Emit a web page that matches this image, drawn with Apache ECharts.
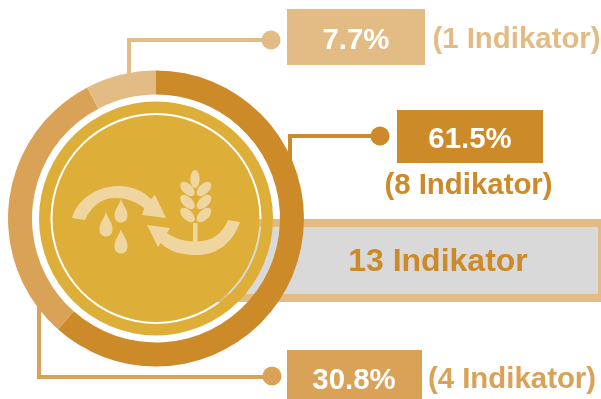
<!DOCTYPE html>
<html>
<head>
<meta charset="utf-8">
<style>html,body{margin:0;padding:0;background:#fff}#c{width:601px;height:399px}</style>
<script src="https://cdn.jsdelivr.net/npm/echarts@6/dist/echarts.min.js"></script>
</head>
<body>
<div id="c"></div>
<script>
const categories = ['Dark', 'Medium', 'Light'];
const indicatorCounts = [8, 4, 1];
const percentLabels = ['61.5%', '30.8%', '7.7%'];
const countLabels = ['(8 Indikator)', '(4 Indikator)', '(1 Indikator)'];
const totalLabel = '13 Indikator';
const sliceColors = ['#CC8A29', '#D9A257', '#E3BC85'];

const FONT = '"Liberation Sans", Arial, sans-serif';
const GOLD = '#DDAE38', ICON = '#EFD6A0';
const CX = 156, CY = 218.5;

const chart = echarts.init(document.getElementById('c'), null, {renderer: 'canvas'});

function txt(t, x, y, size, fill) {
  return {type: 'text', x, y,
    style: {text: t, fill, font: 'bold ' + size + 'px ' + FONT, textAlign: 'center', textVerticalAlign: 'middle'}};
}
function rect(x, y, w, h, fill) {
  return {type: 'rect', shape: {x, y, width: w, height: h}, style: {fill}};
}
function poly(points, stroke) {
  return {type: 'polyline', shape: {points}, style: {stroke, fill: null, lineWidth: 4, lineJoin: 'miter'}};
}
function dot(cx, cy, fill) {
  return {type: 'circle', shape: {cx, cy, r: 9.5}, style: {fill}};
}
function leaf(x, y, deg) {
  return {type: 'ellipse', x, y, rotation: deg * Math.PI / 180,
    shape: {cx: 0, cy: 0, rx: 9, ry: 5}, style: {fill: ICON}};
}
function glyph(d) {
  return {type: 'path', style: {fill: ICON}, shape: {pathData: d}};
}

const backdropChildren = [
  rect(212, 219, 389, 83, sliceColors[2]),
  rect(212, 227, 386, 67, '#D9D9D9'),
  poly([[129, 75], [129, 40], [271, 40]], sliceColors[2]),
  poly([[290, 165], [290, 136], [380, 136]], sliceColors[0]),
  poly([[39, 305], [39, 377], [272, 377]], sliceColors[1])
];

const foregroundChildren = [
  dot(271, 40, sliceColors[2]),
  dot(380, 136, sliceColors[0]),
  dot(272, 376, sliceColors[1]),
  rect(287, 9, 138, 56, sliceColors[2]),
  rect(397, 110, 146, 53, sliceColors[0]),
  rect(287, 350, 135, 49, sliceColors[1]),
  txt(percentLabels[2], 356, 40.5, 29.4, '#fff'),
  txt(percentLabels[0], 470, 139.5, 29.4, '#fff'),
  txt(percentLabels[1], 354, 380.5, 29.4, '#fff'),
  txt(countLabels[2], 516.5, 39.5, 29.4, sliceColors[2]),
  txt(countLabels[0], 468.5, 185.5, 29.4, sliceColors[0]),
  txt(countLabels[1], 512, 379.5, 29.4, sliceColors[1]),
  txt(totalLabel, 438, 262.5, 32, sliceColors[0]),
  {type: 'ring', shape: {cx: CX, cy: CY, r: 117, r0: 105.5}, style: {fill: GOLD}},
  {type: 'circle', shape: {cx: CX, cy: CY, r: 103.5}, style: {fill: GOLD}},
  glyph('M72 218 C78 197 100 186 118 186 C132 186 143 191 151 199 L155 195 L166 218 L142 215 L144 208 C135 201 126 198 115 198 C102 198 91 206 85 220 Z'),
  glyph('M147 225 L170 228 L167 233 C175 239 185 241.5 197 241.5 C212 241.5 223 233 228 220 L240 222 C234 241 218 255 198 255 C184 255 170 253 161 243 L158 247 Z'),
  glyph('M121 199 C123 206 127.5 209 127.5 215.5 C127.5 220 124.5 222.5 121 222.5 C117.5 222.5 114.5 220 114.5 215.5 C114.5 209 119 206 121 199 Z'),
  glyph('M106 212 C108 219 112.5 222 112.5 229.5 C112.5 234 109.5 236.5 106 236.5 C102.5 236.5 99.5 234 99.5 229.5 C99.5 222 104 219 106 212 Z'),
  glyph('M121 229 C123 236 127.5 239 127.5 246.5 C127.5 251 124.5 253.5 121 253.5 C117.5 253.5 114.5 251 114.5 246.5 C114.5 239 119 236 121 229 Z'),
  rect(193, 223, 4.5, 21, ICON),
  {type: 'ellipse', shape: {cx: 195, cy: 179, rx: 4.6, ry: 9}, style: {fill: ICON}},
  leaf(187.5, 189, -45), leaf(204, 189, 45),
  leaf(187.5, 202, -45), leaf(204, 202, 45),
  leaf(187.5, 215, -45), leaf(204, 215, 45)
];

chart.setOption({
  animation: false,
  backgroundColor: '#fff',
  series: [{
    type: 'custom',
    coordinateSystem: 'none',
    z: 0,
    silent: true,
    data: [[0]],
    renderItem: () => ({type: 'group', children: backdropChildren})
  }, {
    type: 'pie',
    z: 2,
    silent: true,
    center: [CX, CY],
    radius: [124, 148],
    startAngle: 90,
    clockwise: true,
    label: {show: false},
    labelLine: {show: false},
    data: categories.map((name, i) => ({name, value: indicatorCounts[i], itemStyle: {color: sliceColors[i]}}))
  }, {
    type: 'custom',
    coordinateSystem: 'none',
    z: 10,
    silent: true,
    data: [[0]],
    renderItem: () => ({type: 'group', children: foregroundChildren})
  }]
});
</script>
</body>
</html>
